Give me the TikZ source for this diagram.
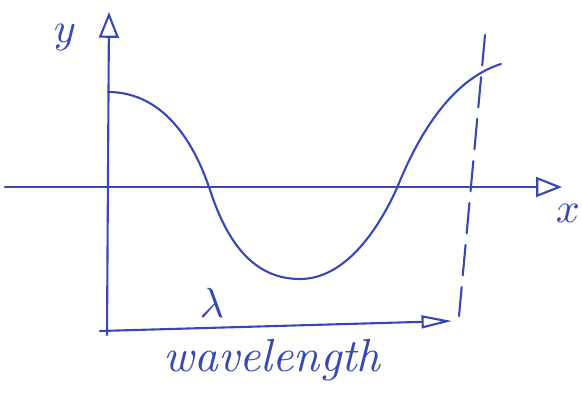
\documentclass[tikz,border=0pt]{standalone}
\usetikzlibrary{arrows.meta}
\definecolor{ink}{RGB}{55,72,182}

\begin{document}
\begin{tikzpicture}[
  x=0.03cm, y=-0.03cm,
  ink/.style={draw=ink, line width=1.8pt, line cap=round},
  axis/.style={ink, -{Triangle[open, length=22pt, width=17pt]}},
  lbl/.style={text=ink, scale=3.6}
]
\useasboundingbox (0,0) rectangle (582,393);
\coordinate (ybot)   at (107,335);
\coordinate (ytop)   at (109,12);
\coordinate (xleft)  at (5,187);
\coordinate (xright) at (562,187);
\coordinate (dtop)   at (485,35);
\coordinate (dbot)   at (459,316);
\coordinate (lstart) at (100,331);
\coordinate (lend)   at (452,321);
\draw[axis] (ybot) -- (ytop);
\draw[axis] (xleft) -- (xright);
% the wave, as sketched
\draw[ink] (108,92) .. controls (165,92) and (195,145) .. (210,190)
  .. controls (228,245) and (255,279) .. (300,279)
  .. controls (345,279) and (378,230) .. (397,188)
  .. controls (417,138) and (450,80) .. (501,64);
\draw[ink, dash pattern=on 26pt off 10pt] (dtop) -- (dbot);
\draw[ink, -{Triangle[open, length=26pt, width=11pt]}] (lstart) -- (lend);
\node[lbl] (ylabel) at (65,38) {$y$};
\node[lbl] (xlabel) at (568,213) {$x$};
\node[lbl] (lambda) at (212,303) {$\lambda$};
\node[lbl, scale=1.1, font=\itshape] (wavelen) at (272,360) {wavelength};
\end{tikzpicture}
\end{document}
